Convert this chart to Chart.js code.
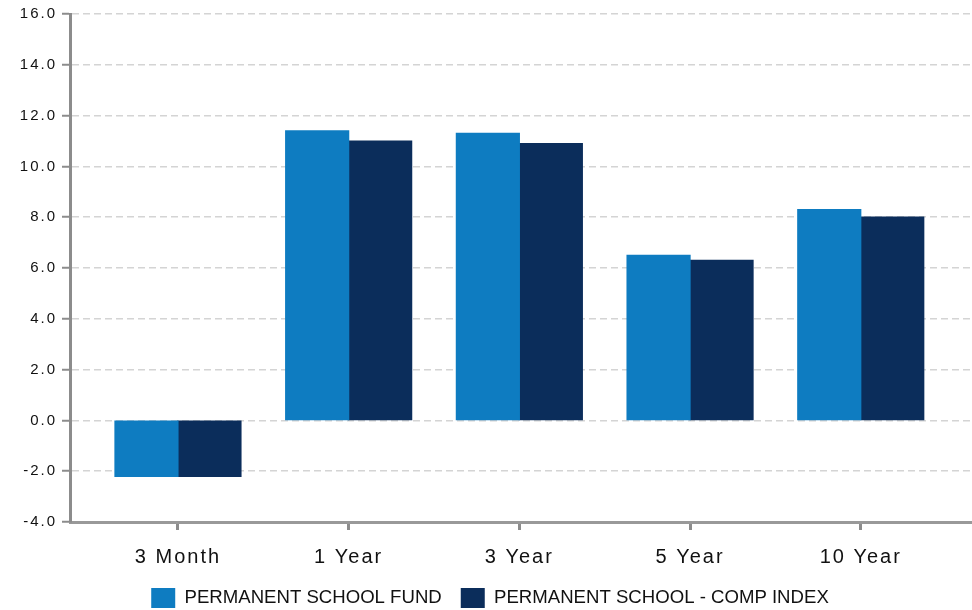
<!DOCTYPE html>
<html>
<head>
<meta charset="utf-8">
<script src="https://cdn.jsdelivr.net/npm/chart.js@4.4.1/dist/chart.umd.min.js"></script>
<style>
  html, body { margin: 0; padding: 0; background: #fff; }
  #wrap { width: 972px; height: 610px; position: relative; }
</style>
</head>
<body>
<div id="wrap"><canvas id="chart"></canvas></div>
<script>
const categories = ['3 Month', '1 Year', '3 Year', '5 Year', '10 Year'];
const fundValues = [-2.2, 11.4, 11.3, 6.5, 8.3];
const indexValues = [-2.2, 11.0, 10.9, 6.3, 8.0];
const seriesNames = ['PERMANENT SCHOOL FUND', 'PERMANENT SCHOOL - COMP INDEX'];
const yTicks = { min: -4, max: 16, step: 2 };

// tick labels in the reference are letter-spaced, so wrap the label drawing
class SpacedLinear extends Chart.LinearScale {
    drawLabels(area) {
        const c = this.ctx;
        c.save();
        c.letterSpacing = '2px';
        super.drawLabels(area);
        c.restore();
    }
}
SpacedLinear.id = 'spacedLinear';
SpacedLinear.defaults = Chart.LinearScale.defaults;
Chart.register(SpacedLinear);

const toPoints = vals => vals.map((v, i) => ({ x: i, y: v }));

const config = {
    type: 'bar',
    data: {
        datasets: [{
            label: seriesNames[0],
            data: toPoints(fundValues),
            backgroundColor: '#0e7cc1'
        }, {
            label: seriesNames[1],
            data: toPoints(indexValues),
            backgroundColor: '#0b2d5b'
        }]
    },
    options: {
        responsive: true,
        maintainAspectRatio: false,
        animation: false,
        layout: { padding: { top: 13, right: 2, left: 10, bottom: -8 } },
        datasets: {
            bar: { categoryPercentage: 0.738, barPercentage: 1.0, borderWidth: 0, inflateAmount: 0.6 }
        },
        scales: {
            x: {
                type: 'spacedLinear',
                offset: false,
                min: -0.6325,
                max: 4.64,
                afterFit: s => { s.height = 47; },
                ticks: {
                    stepSize: 1,
                    includeBounds: false,
                    autoSkip: false,
                    maxRotation: 0,
                    padding: 15,
                    color: '#111',
                    font: { family: 'Liberation Sans, Arial', size: 20 },
                    callback: v => categories[v]
                },
                grid: {
                    offset: false,
                    drawOnChartArea: false,
                    drawTicks: true,
                    tickLength: 8,
                    color: '#8c8c8c',
                    lineWidth: 3
                },
                border: { display: true, color: '#999', width: 3 }
            },
            y: {
                type: 'spacedLinear',
                min: yTicks.min,
                max: yTicks.max,
                afterFit: s => { s.width = 60; },
                ticks: {
                    stepSize: yTicks.step,
                    padding: 5,
                    color: '#111',
                    font: { family: 'Liberation Sans, Arial', size: 15 },
                    callback: v => v.toFixed(1)
                },
                grid: {
                    color: '#d4d4d4',
                    lineWidth: 1.5,
                    tickLength: 8,
                    tickColor: '#8c8c8c',
                    tickWidth: 2,
                    tickBorderDash: []
                },
                // in v4 border.dash is what dashes the grid lines
                border: { display: true, color: '#8c8c8c', width: 3, dash: [7, 4] }
            }
        },
        plugins: {
            legend: {
                position: 'bottom',
                labels: {
                    boxWidth: 24,
                    boxHeight: 20,
                    padding: 19,
                    color: '#111',
                    font: { family: 'Liberation Sans, Arial', size: 18.6 }
                }
            },
            tooltip: { enabled: false }
        }
    }
};

const chart = new Chart(document.getElementById('chart'), config);
</script>
</body>
</html>
